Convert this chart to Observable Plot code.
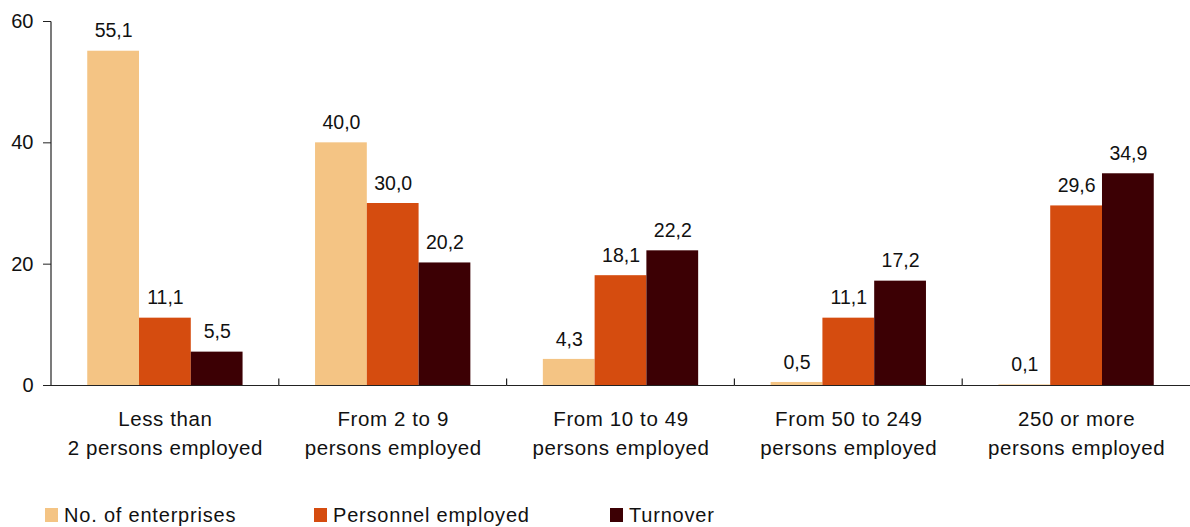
<!DOCTYPE html>
<html>
<head>
<meta charset="utf-8">
<script src="https://cdn.jsdelivr.net/npm/d3@7"></script>
<script src="https://cdn.jsdelivr.net/npm/@observablehq/plot@0.6"></script>
<style>
  body { margin: 0; background: #fff; font-family: "Liberation Sans", Arial, sans-serif; }
  #wrap { width: 1190px; height: 527px; position: relative; }
  #legend { position: relative; height: 57px; }
  .item { position: absolute; top: 33px; height: 24px; display: flex; align-items: center; font-size: 20px; letter-spacing: 0.8px; color: #111; white-space: nowrap; }
  .sw { width: 13px; height: 14px; margin-right: 6px; display: inline-block; }
  g[aria-label="fx-axis tick label"] { letter-spacing: 0.6px; }
</style>
</head>
<body>
<div id="wrap"></div>
<script>
const categories = [
  "Less than\n2 persons employed",
  "From 2 to 9\npersons employed",
  "From 10 to 49\npersons employed",
  "From 50 to 249\npersons employed",
  "250 or more\npersons employed"
];
const series = ["No. of enterprises", "Personnel employed", "Turnover"];
const enterprises = [55.1, 40.0, 4.3, 0.5, 0.1];
const personnel = [11.1, 30.0, 18.1, 11.1, 29.6];
const turnover = [5.5, 20.2, 22.2, 17.2, 34.9];
const colors = ["#F4C484", "#D54C0F", "#3C0004"];
const yTicks = [0, 20, 40, 60];

const values = [enterprises, personnel, turnover];
const data = [];
categories.forEach((c, i) => series.forEach((s, j) => data.push({cat: c, series: s, value: values[j][i]})));
const fmt = v => d3.format(".1f")(v).replace(".", ",");

const chart = Plot.plot({
  width: 1190,
  height: 470,
  marginLeft: 51,
  marginRight: 0,
  marginTop: 21,
  marginBottom: 85,
  style: {fontFamily: "Liberation Sans, Arial, sans-serif", fontSize: "20px", color: "#111", background: "#fff"},
  fx: {domain: categories, padding: 0, round: false, label: null},
  x: {domain: series, paddingInner: 0, paddingOuter: 0.7, round: false, axis: null, label: null},
  y: {domain: [0, 60], axis: null, label: null},
  color: {domain: series, range: colors},
  marks: [
    Plot.barY(data, {fx: "cat", x: "series", y: "value", fill: "series"}),
    Plot.ruleY(categories, {
      fx: d => d, y: () => 0, stroke: "#222", strokeWidth: 1.2,
      render(I, scales, vals, dims, ctx, next) {
        const g = next(I, scales, vals, dims, ctx);
        const r = scales.x.range();
        const x0 = Math.min(r[0], r[1]);
        const y0 = scales.y(0);
        const y1 = I[0] === 0 ? scales.y(60) : y0 - 7;
        const line = document.createElementNS("http://www.w3.org/2000/svg", "line");
        line.setAttribute("x1", x0); line.setAttribute("x2", x0);
        line.setAttribute("y1", y0); line.setAttribute("y2", y1);
        line.setAttribute("stroke", "#222");
        line.setAttribute("stroke-width", 1.2);
        g.appendChild(line);
        return g;
      }
    }),
    Plot.text(data, {fx: "cat", x: "series", y: "value", text: d => fmt(d.value), dy: -20, fontSize: 19.5, fill: "#111"}),
    Plot.axisY({ticks: yTicks, tickSize: 8, tickPadding: 10, label: null, fontSize: 20, stroke: "#222"}),
    Plot.axisFx({anchor: "bottom", tickSize: 0, tickPadding: 20, lineHeight: 1.4, label: null, fontSize: 20.5})
  ]
});
const wrap = document.getElementById("wrap");
wrap.appendChild(chart);

const legend = document.createElement("div");
legend.id = "legend";
const lefts = [45, 314, 610];
series.forEach((s, i) => {
  const it = document.createElement("div");
  it.className = "item";
  it.style.left = lefts[i] + "px";
  it.innerHTML = `<span class="sw" style="background:${colors[i]}"></span><span class="lbl">${s}</span>`;
  legend.appendChild(it);
});
wrap.appendChild(legend);
</script>
</body>
</html>
